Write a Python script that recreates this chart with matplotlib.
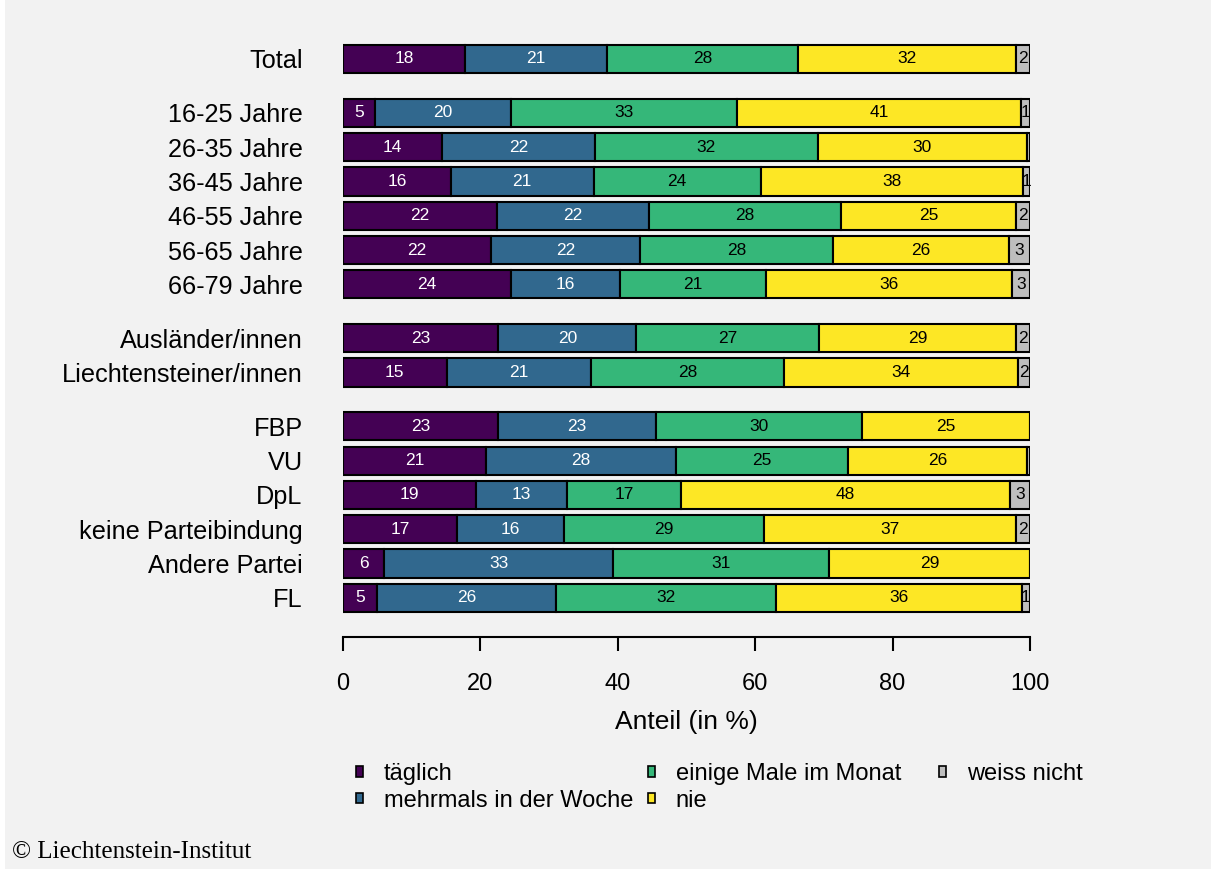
import numpy as np
import matplotlib
matplotlib.use("Agg")
import matplotlib.pyplot as plt
from matplotlib.patches import Patch, Rectangle

plt.rcParams['font.family'] = ['Liberation Sans', 'DejaVu Sans']

groups = ["Total", "16-25 Jahre", "26-35 Jahre", "36-45 Jahre", "46-55 Jahre",
          "56-65 Jahre", "66-79 Jahre", "Ausländer/innen", "Liechtensteiner/innen",
          "FBP", "VU", "DpL", "keine Parteibindung", "Andere Partei", "FL"]
# block index of each row (gaps between blocks)
block = [0, 1, 1, 1, 1, 1, 1, 2, 2, 3, 3, 3, 3, 3, 3]

categories = ["täglich", "mehrmals in der Woche", "einige Male im Monat", "nie", "weiss nicht"]
taeglich = [17.8, 4.6, 14.4, 15.7, 22.4, 21.6, 24.4, 22.6, 15.1, 22.6, 20.8, 19.4, 16.6, 6.0, 5.0]
mehrmals = [20.6, 19.8, 22.3, 20.8, 22.1, 21.7, 15.9, 20.1, 21.0, 22.9, 27.7, 13.2, 15.6, 33.3, 26.0]
einige = [27.8, 33.0, 32.4, 24.3, 28.0, 28.0, 21.3, 26.6, 28.1, 30.0, 25.0, 16.6, 29.1, 31.4, 32.1]
nie = [31.8, 41.3, 30.4, 38.2, 25.4, 25.6, 35.8, 28.7, 34.1, 24.5, 26.1, 47.9, 36.7, 29.3, 35.7]
weiss = [2.0, 1.3, 0.45, 1.0, 2.1, 3.1, 2.6, 2.0, 1.7, 0.0, 0.4, 2.9, 2.0, 0.0, 1.2]

colors = ["#440154", "#31688e", "#35b779", "#fde725", "#bebebe"]
text_colors = ["white", "white", "black", "black", "black"]

W, H = 1211, 869
fig = plt.figure(figsize=(W / 100, H / 100), dpi=100, facecolor="#f2f2f2")
# thin white strip at the left edge
fig.patches.append(Rectangle((0, 0), 5 / W, 1, transform=fig.transFigure,
                             facecolor="white", edgecolor="none"))

row_px = 34.3
ax_top, ax_bot = 30, 637
ax = fig.add_axes([343 / W, (H - ax_bot) / H, 687 / W, (ax_bot - ax_top) / H])
ax.set_facecolor("none")

ypos = np.arange(len(groups)) + 0.57 * np.array(block)
top_lim = -(59 - ax_top) / row_px
ax.set_ylim(top_lim + (ax_bot - ax_top) / row_px, top_lim)
ax.set_xlim(0, 100)

left = np.zeros(len(groups))
for vals, col, tcol in zip([taeglich, mehrmals, einige, nie, weiss], colors, text_colors):
    vals = np.array(vals)
    ax.barh(ypos, vals, left=left, height=0.82, color=col, edgecolor="black",
            linewidth=1.5)
    for y, l, v in zip(ypos, left, vals):
        lab = int(np.floor(v + 0.5))
        if lab >= 1:
            ax.text(l + v / 2, y, str(lab), ha="center", va="center",
                    color=tcol, fontsize=12.5)
    left = left + vals

for s in ["top", "right", "left"]:
    ax.spines[s].set_visible(False)
ax.spines["bottom"].set_bounds(0, 100)
ax.spines["bottom"].set_linewidth(1.5)
ax.set_xticks(np.arange(0, 101, 20))
ax.tick_params(axis="x", length=10, width=1.5, pad=16, labelsize=17)
ax.set_yticks(ypos)
ax.set_yticklabels(groups)
ax.tick_params(axis="y", length=0, pad=29, labelsize=18.2)
ax.set_xlabel("Anteil (in %)", fontsize=19, labelpad=11)

# legend: three columns placed separately
handles = [Patch(facecolor=c, edgecolor="black", linewidth=1.2, label=n)
           for c, n in zip(colors, categories)]
columns = [[0, 1], [2, 3], [4]]
col_x = [356, 648, 939]
for idx, x in zip(columns, col_x):
    fig.legend(handles=[handles[i] for i in idx], loc="upper left",
               bbox_to_anchor=(x / W, (H - 763) / H), frameon=False,
               fontsize=17, handlelength=0.3, handleheight=0.3,
               handletextpad=0.88, labelspacing=0.2, borderpad=0,
               borderaxespad=0)

fig.text(12 / W, (H - 852) / H, "© Liechtenstein-Institut", fontsize=18,
         family=["Liberation Serif", "DejaVu Serif"], ha="left", va="center")

fig.savefig("out.png", dpi=100, facecolor=fig.get_facecolor())
